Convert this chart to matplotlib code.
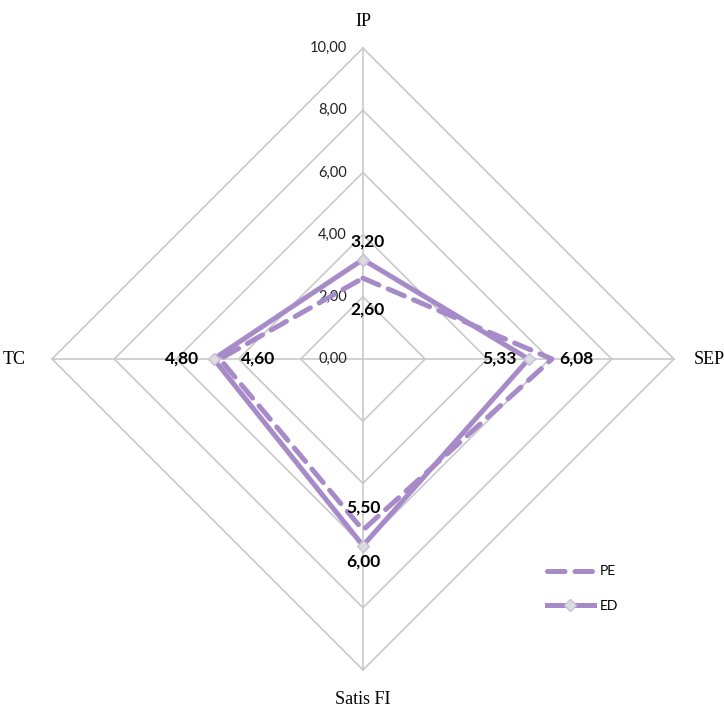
import numpy as np
import matplotlib.pyplot as plt

# radar data
categories = ['IP', 'SEP', 'Satis FI', 'TC']
pe_values = [2.60, 6.08, 5.50, 4.60]
ed_values = [3.20, 5.33, 6.00, 4.80]
rings = [0, 2, 4, 6, 8, 10]

purple = '#A68BC8'
grid_col = '#C9C9C9'

# label offsets in pixels (dx, dy) from each point
pe_offsets = [(5, -31), (24, 0), (0, 23), (38, 0)]
ed_offsets = [(5, 18), (-29, 0), (0, -16), (-32, 0)]

def fmt(v):
    return f'{v:.2f}'.replace('.', ',')

fig = plt.figure(figsize=(7.24, 7.07), dpi=100)
ax = fig.add_axes([0.0718, 0.0523, 0.859, 0.8798], projection='polar')
ax.set_theta_offset(np.pi / 2)
ax.set_theta_direction(-1)
ax.set_ylim(0, 10)
ax.grid(False)
ax.set_xticks([])
ax.set_yticks([])
ax.spines['polar'].set_visible(False)
ax.patch.set_alpha(0)

n = len(categories)
angles = np.arange(n) * 2 * np.pi / n
closed = np.append(angles, angles[0])

# diamond grid and spokes
for r in rings[1:]:
    ax.plot(closed, [r] * (n + 1), color=grid_col, lw=1.2, clip_on=False, zorder=1)
for a in angles:
    ax.plot([a, a], [0, 10], color=grid_col, lw=1.2, clip_on=False, zorder=1)

# ring values along the top spoke
for r in rings:
    ax.annotate(fmt(r), (0, r), xytext=(-16, 0), textcoords='offset pixels',
                ha='right', va='center', fontsize=10.5, family='Lato', color='#222222')

# category names
label_off = [(0, 27), (20, 0), (0, -30), (-26, 0)]
label_ha = ['center', 'left', 'center', 'right']
for a, name, off, ha in zip(angles, categories, label_off, label_ha):
    ax.annotate(name, (a, 10), xytext=off, textcoords='offset pixels',
                ha=ha, va='center', fontsize=13, family='Liberation Serif',
                annotation_clip=False)

ax.plot(closed, pe_values + pe_values[:1], color=purple, lw=3.6, ls=(0, (3.5, 2)),
        dash_capstyle='round', solid_joinstyle='miter', label='PE', zorder=3)
ax.plot(closed, ed_values + ed_values[:1], color=purple, lw=3.6, marker='D',
        markersize=6, markerfacecolor='#DCDCDC', markeredgecolor='#C9BEDC',
        markeredgewidth=1, label='ED', zorder=4)

for a, v, off in zip(angles, pe_values, pe_offsets):
    ax.annotate(fmt(v), (a, v), xytext=off, textcoords='offset pixels',
                ha='center', va='center', fontsize=12.5, fontweight='bold', family='Lato')
for a, v, off in zip(angles, ed_values, ed_offsets):
    ax.annotate(fmt(v), (a, v), xytext=off, textcoords='offset pixels',
                ha='center', va='center', fontsize=12.5, fontweight='bold', family='Lato')

fig.legend(loc='upper left', bbox_to_anchor=(0.738, 0.218), frameon=False,
           handlelength=3.4, labelspacing=1.6, handletextpad=0.4,
           prop={'family': 'Lato', 'size': 10})

fig.savefig('out.png', dpi=100)
